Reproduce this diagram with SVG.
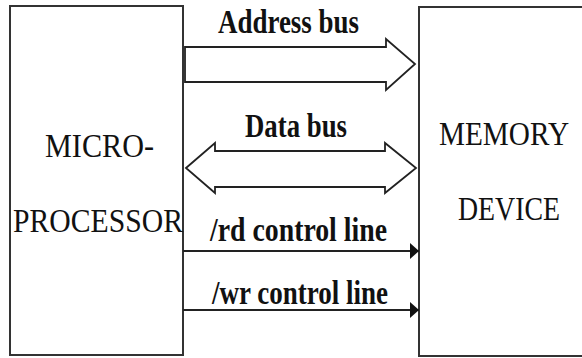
<svg xmlns="http://www.w3.org/2000/svg" width="582" height="358" viewBox="0 0 582 358">
<style>
.box{fill:#fff;stroke:#333;stroke-width:2}
.bus{fill:#fff;stroke:#222;stroke-width:1.8;stroke-linejoin:miter}
.ln{stroke:#222;stroke-width:2.2;fill:none}
.lbl{font-family:"Liberation Serif","DejaVu Serif","Times New Roman",serif;font-weight:bold;font-size:33px;fill:#111}
.nt{font-family:"Liberation Serif","DejaVu Serif","Times New Roman",serif;font-size:34px;fill:#111}
</style>
<defs>
<marker id="ah" markerUnits="userSpaceOnUse" markerWidth="10" markerHeight="18" refX="9" refY="8" orient="auto">
<path d="M0,0 L9,8 L0,16 Z" fill="#111"/>
</marker>
</defs>
<rect width="582" height="358" fill="#fff"/>
<g id="microprocessor">
<rect class="box" x="10" y="6" width="173" height="349"/>
<text class="nt" x="45" y="157" textLength="109" lengthAdjust="spacingAndGlyphs">MICRO-</text>
<text class="nt" x="13" y="232" textLength="170" lengthAdjust="spacingAndGlyphs">PROCESSOR</text>
</g>
<g id="memory">
<path class="box" d="M582,7 H419 V356 H582"/>
<text class="nt" x="439" y="145" textLength="130" lengthAdjust="spacingAndGlyphs">MEMORY</text>
<text class="nt" x="458" y="220" textLength="102" lengthAdjust="spacingAndGlyphs">DEVICE</text>
</g>
<g id="connectors">
<g id="address-bus">
<polygon class="bus" points="185,47 386,47 386,39 415,64 386,90 386,82 185,82"/>
<text class="lbl" x="218" y="33" textLength="141" lengthAdjust="spacingAndGlyphs">Address bus</text>
</g>
<g id="data-bus">
<polygon class="bus" points="186,168 215,143 215,151 385,151 385,143 416,168 385,193 385,187 215,187 215,193"/>
<text class="lbl" x="245" y="137" textLength="102" lengthAdjust="spacingAndGlyphs">Data bus</text>
</g>
<g id="rd-line">
<line class="ln" x1="183" y1="251" x2="419" y2="251" marker-end="url(#ah)"/>
<text class="lbl" x="210" y="241" textLength="177" lengthAdjust="spacingAndGlyphs">/rd control line</text>
</g>
<g id="wr-line">
<line class="ln" x1="183" y1="310" x2="419" y2="310" marker-end="url(#ah)"/>
<text class="lbl" x="212" y="304" textLength="176" lengthAdjust="spacingAndGlyphs">/wr control line</text>
</g>
</g>
</svg>
